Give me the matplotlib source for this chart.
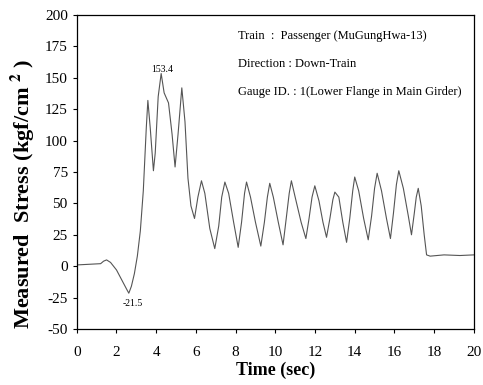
import matplotlib
matplotlib.use("Agg")
import matplotlib.pyplot as plt

# measured stress trace (time in sec, stress in kgf/cm2)
time_s = [0, 1.2, 1.35, 1.5, 1.7, 2.0, 2.3, 2.5, 2.62, 2.75, 2.9, 3.05, 3.2, 3.35,
          3.5, 3.58, 3.7, 3.86, 3.95, 4.1, 4.25, 4.4, 4.62, 4.8, 4.95, 5.1, 5.29,
          5.45, 5.6, 5.75, 5.93, 6.1, 6.28, 6.45, 6.7, 6.95, 7.15, 7.3, 7.46, 7.65,
          7.9, 8.13, 8.3, 8.45, 8.55, 8.75, 9.0, 9.27, 9.45, 9.6, 9.72, 9.9, 10.15,
          10.39, 10.55, 10.7, 10.81, 11.0, 11.3, 11.54, 11.7, 11.85, 11.99, 12.2,
          12.4, 12.58, 12.75, 12.9, 13.0, 13.2, 13.4, 13.59, 13.75, 13.9, 14.0,
          14.2, 14.45, 14.68, 14.85, 15.0, 15.13, 15.35, 15.6, 15.8, 15.95, 16.1,
          16.22, 16.45, 16.7, 16.86, 17.0, 17.1, 17.2, 17.35, 17.5, 17.62, 17.8,
          18.5, 19.3, 20.0]
stress = [1, 2, 4, 5, 3, -3, -12, -18, -21.5, -16, -6, 8, 28, 60,
          110, 132, 110, 76, 90, 135, 153.4, 138, 130, 105, 79, 105, 142,
          115, 70, 48, 38, 55, 68, 58, 30, 14, 32, 55, 67, 58,
          35, 15, 35, 58, 67, 55, 35, 16, 35, 55, 66, 55, 35,
          17, 38, 58, 68, 55, 35, 22, 38, 55, 64, 52,
          35, 23, 38, 53, 59, 55, 35, 19, 38, 60, 71,
          60, 38, 21, 40, 62, 74, 60, 38, 22, 42, 65,
          76, 62, 40, 25, 42, 55, 62, 48, 25, 9, 8,
          9, 8.5, 9]

info_lines = ["Train  :  Passenger (MuGungHwa-13)",
              "Direction : Down-Train",
              "Gauge ID. : 1(Lower Flange in Main Girder)"]

plt.rcParams['font.family'] = ['Liberation Serif', 'DejaVu Serif']
plt.rcParams['mathtext.fontset'] = 'stix'
plt.rcParams['axes.unicode_minus'] = False

fig = plt.figure(figsize=(4.83, 3.85), dpi=100)
ax = fig.add_axes([0.159, 0.1455, 0.822, 0.8155])

ax.plot(time_s, stress, color='#555555', lw=0.8)

ax.set_xlim(0, 20)
ax.set_ylim(-50, 200)
ax.set_xticks(range(0, 21, 2))
ax.set_yticks(range(-50, 201, 25))
ax.tick_params(direction='out', length=3, width=0.8, labelsize=11)
ax.tick_params(axis='x', pad=9)
for s in ax.spines.values():
    s.set_linewidth(0.9)

ax.set_xlabel("Time (sec)", fontsize=13, fontweight='bold', labelpad=2)
ax.set_ylabel(r"Measured  Stress (kgf/cm $^{\mathbf{2}}$ )", fontsize=16,
              fontweight='bold')
ax.yaxis.set_label_coords(-0.10, 0.43)

ax.text(4.28, 157, "153.4", fontsize=7, ha='center', va='center')
ax.text(2.82, -29.5, "-21.5", fontsize=7, ha='center', va='center')

for i, line in enumerate(info_lines):
    ax.text(8.1, 183 - 22 * i, line, fontsize=9, ha='left', va='center')

fig.savefig("out.png", dpi=100)
